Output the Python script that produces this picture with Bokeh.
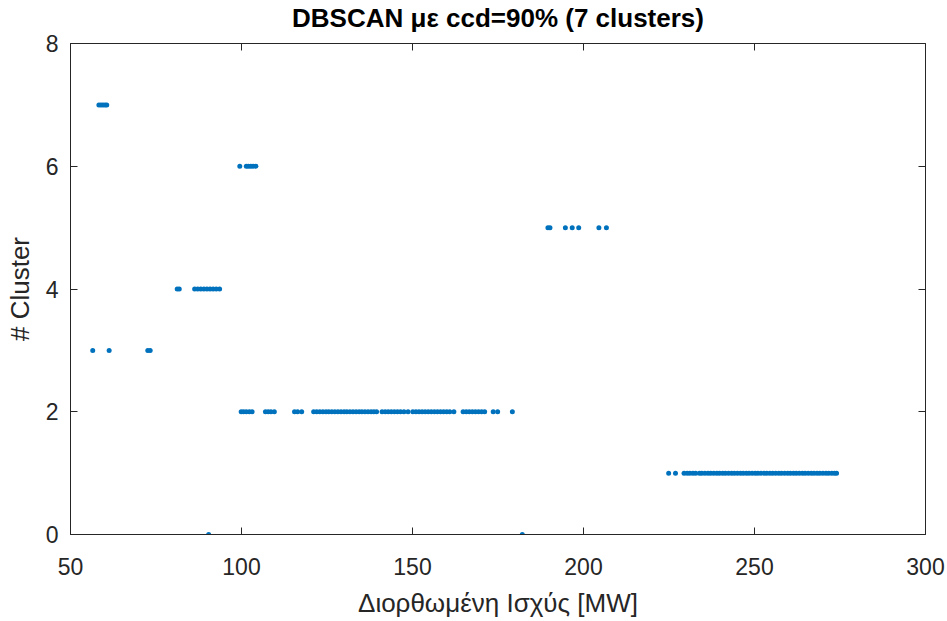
from bokeh.plotting import figure
from bokeh.models import LinearAxis, FixedTicker, Range1d, ColumnDataSource, CustomLabelingPolicy
from bokeh.embed import file_html
from bokeh.resources import INLINE

# ---- data ----
noise_x = [90.4, 182.1]
c1_x = [224.9, 226.9, 229.4, 230.3, 231.1, 232.0, 232.8, 233.9, 234.6, 235.5, 236.4, 237.2,
        238.1, 239.0, 239.8, 240.7, 241.5, 242.4, 243.3, 244.1, 245.0, 245.9, 246.7, 247.6,
        248.4, 249.3, 250.2, 251.0, 251.9, 252.8, 253.6, 254.5, 255.3, 256.2, 257.1, 257.9,
        258.8, 259.7, 260.5, 261.4, 262.2, 263.1, 264.0, 264.8, 265.7, 266.6, 267.4, 268.3,
        269.1, 270.0, 270.9, 271.7, 272.6, 273.4, 274.0]
c2_x = [99.9, 100.6, 101.4, 102.3, 103.1, 107.0, 107.8, 108.6, 109.6, 115.5, 116.4, 117.6,
        121.1, 122.0, 122.9, 123.8, 124.7, 125.5, 126.4, 127.3, 128.2, 129.1, 130.0, 130.8,
        131.7, 132.6, 133.5, 134.4, 135.2, 136.1, 137.0, 137.9, 138.7, 139.5,
        141.1, 142.0, 142.9, 143.8, 144.7, 145.6, 146.5, 147.5, 148.7,
        150.1, 151.0, 151.9, 152.8, 153.7, 154.6, 155.5, 156.4, 157.3, 158.2, 159.1, 160.0, 160.9,
        162.1, 164.8, 165.7, 166.6, 167.5, 168.4, 169.3, 170.2, 171.1, 173.6, 174.9, 179.2]
c3_x = [56.5, 61.3, 72.6, 73.3]
c4_x = [81.2, 81.8, 86.3, 87.2, 88.1, 89.0, 89.9, 90.8, 91.7, 92.6, 93.6]
c5_x = [189.6, 190.2, 194.7, 196.7, 198.6, 204.5, 206.7]
c6_x = [99.5, 101.4, 102.0, 102.7, 103.4, 104.2]
c7_x = [58.3, 58.9, 59.5, 60.1, 60.6]

cluster_ids = [0, 1, 2, 3, 4, 5, 6, 7]
x_ticks = [50, 100, 150, 200, 250, 300]
y_ticks = [0, 2, 4, 6, 8]

groups = [noise_x, c1_x, c2_x, c3_x, c4_x, c5_x, c6_x, c7_x]
xs, ys = [], []
for cid, g in zip(cluster_ids, groups):
    xs.extend(g)
    ys.extend([cid] * len(g))
src = ColumnDataSource(dict(x=xs, y=ys))

FONT = "Liberation Sans"
TXT = "#262626"

p = figure(frame_width=855, frame_height=491,
           min_border_left=70, min_border_right=22, min_border_top=43, min_border_bottom=87,
           x_range=Range1d(50, 300), y_range=Range1d(0, 8),
           output_backend="svg", toolbar_location=None,
           title="DBSCAN με ccd=90% (7 clusters)")
p.background_fill_color = "white"
p.border_fill_color = "white"
p.outline_line_color = TXT
p.outline_line_width = 1
p.xgrid.visible = False
p.ygrid.visible = False

p.title.align = "center"
p.title.text_font = FONT
p.title.text_font_size = "26px"
p.title.text_font_style = "bold"
p.title.text_color = "black"
p.title.standoff = 0

p.scatter("x", "y", source=src, size=5, color="#0072BD", line_color=None)

for ax in [p.xaxis[0], p.yaxis[0]]:
    ax.major_tick_in = 7
    ax.major_tick_out = 0
    ax.minor_tick_line_color = None
    ax.axis_line_color = TXT
    ax.major_tick_line_color = TXT
    ax.major_label_text_font = FONT
    ax.major_label_text_font_size = "23px"
    ax.major_label_text_color = TXT
    ax.axis_label_text_font = FONT
    ax.axis_label_text_font_size = "26px"
    ax.axis_label_text_font_style = "normal"
    ax.axis_label_text_color = TXT

p.xaxis[0].ticker = FixedTicker(ticks=x_ticks)
p.yaxis[0].ticker = FixedTicker(ticks=y_ticks)
p.xaxis[0].axis_label = "Διορθωμένη Ισχύς [MW]"
p.yaxis[0].axis_label = "# Cluster"
p.xaxis[0].major_label_standoff = 23
p.xaxis[0].axis_label_standoff = 10
p.yaxis[0].major_label_standoff = 12
p.yaxis[0].axis_label_standoff = 8

no_labels = "for (const i of Array.from(indices)) { indices.unset(i) }\nreturn indices"

top_ax = LinearAxis(ticker=FixedTicker(ticks=x_ticks),
                    major_label_policy=CustomLabelingPolicy(code=no_labels),
                    major_tick_in=7, major_tick_out=0, minor_tick_line_color=None,
                    axis_line_color=None, major_tick_line_color=TXT, major_label_standoff=0)
right_ax = LinearAxis(ticker=FixedTicker(ticks=y_ticks),
                      major_label_policy=CustomLabelingPolicy(code=no_labels),
                      major_tick_in=7, major_tick_out=0, minor_tick_line_color=None,
                      axis_line_color=None, major_tick_line_color=TXT, major_label_standoff=0)
p.add_layout(top_ax, "above")
p.add_layout(right_ax, "right")

open("out.html", "w").write(file_html(p, INLINE))
